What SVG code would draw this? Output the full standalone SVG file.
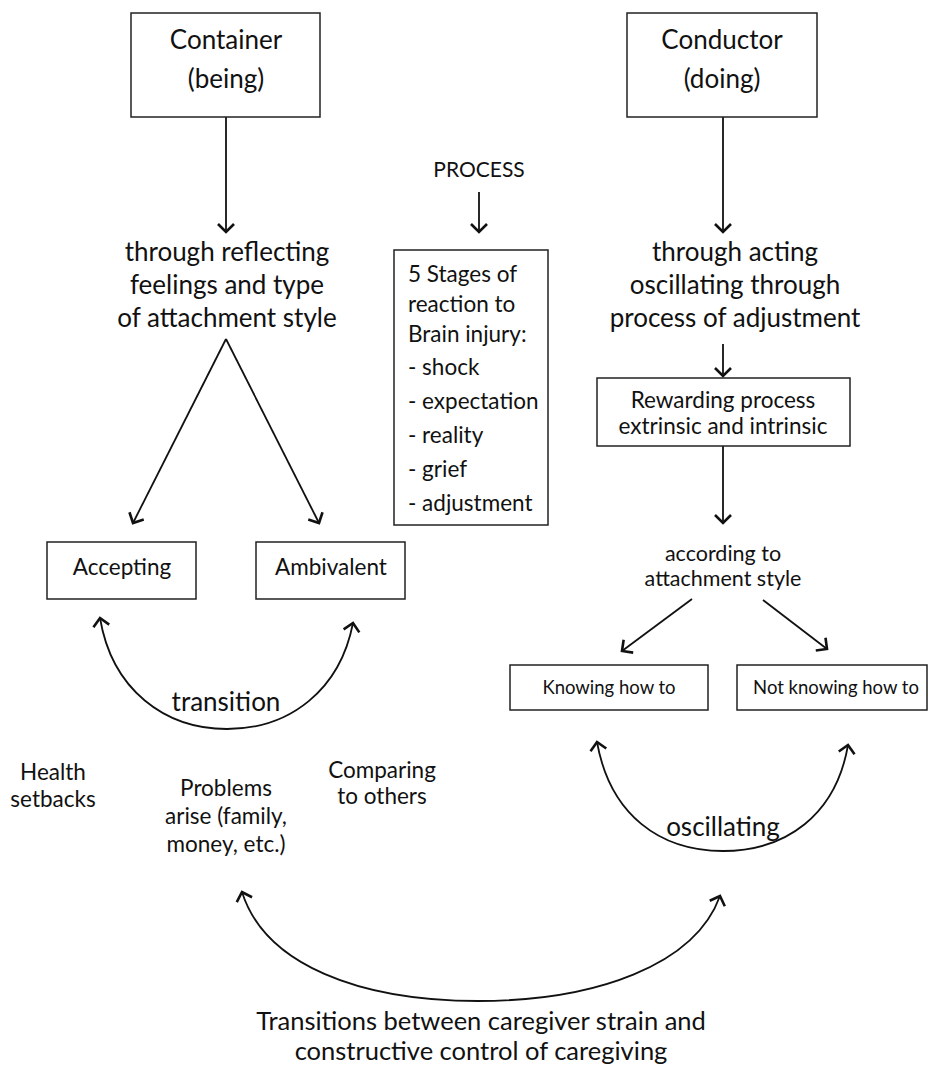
<svg xmlns="http://www.w3.org/2000/svg" width="928" height="1067" viewBox="0 0 928 1067">
<style>
text{font-family:Lato,"Liberation Sans",sans-serif;fill:#111;}
.box{fill:#fff;stroke:#222;stroke-width:1.5;}
.c{text-anchor:middle;}
.t26{font-size:26px;}
.t22{font-size:22.5px;}
.t21{font-size:21.5px;}
.t18{font-size:18.5px;}
.ln{fill:none;stroke:#111;stroke-width:1.8;}
.arr{marker-end:url(#ah);}
.dbl{marker-start:url(#ahs);marker-end:url(#ah);}
</style>
<defs>
<marker id="ah" markerUnits="userSpaceOnUse" viewBox="0 0 20 20" markerWidth="20" markerHeight="20" refX="10" refY="10" orient="auto">
<path d="M2,2 L10,10 L2,18" fill="none" stroke="#111" stroke-width="2.6"/>
</marker>
<marker id="ahs" markerUnits="userSpaceOnUse" viewBox="0 0 20 20" markerWidth="20" markerHeight="20" refX="10" refY="10" orient="auto-start-reverse">
<path d="M2,2 L10,10 L2,18" fill="none" stroke="#111" stroke-width="2.6"/>
</marker>
</defs>
<rect width="928" height="1067" fill="#fff"/>

<g id="connectors">
<line class="ln arr" x1="226" y1="117" x2="226" y2="232"/>
<line class="ln arr" x1="723" y1="117" x2="723" y2="232"/>
<line class="ln arr" x1="479" y1="192" x2="479" y2="232"/>
<line class="ln arr" x1="723" y1="344" x2="723" y2="376"/>
<line class="ln arr" x1="723" y1="446" x2="723" y2="523"/>
<line class="ln arr" x1="226" y1="339" x2="133" y2="523"/>
<line class="ln arr" x1="226" y1="339" x2="319" y2="523"/>
<line class="ln arr" x1="692" y1="599" x2="622" y2="651"/>
<line class="ln arr" x1="763" y1="600" x2="827" y2="649"/>
<path class="ln dbl" d="M100,618 C112,690 165,729 227,729 C290,729 340,690 353,623"/>
<path class="ln dbl" d="M597,742 C610,815 660,851 723,851 C786,851 836,815 848,745"/>
<path class="ln dbl" d="M242,892 C265,965 360,1001 478,1001 C596,1001 695,965 720,896"/>
</g>

<g id="container">
<rect class="box" x="131" y="13" width="189" height="104"/>
<text class="c t26" x="226" y="49">Container</text>
<text class="c t26" x="226" y="88">(being)</text>
</g>

<g id="conductor">
<rect class="box" x="627" y="13" width="190" height="104"/>
<text class="c t26" x="722" y="49">Conductor</text>
<text class="c t26" x="722" y="88">(doing)</text>
</g>

<g id="reflecting">
<text class="c t26" x="227" y="261">through reflecting</text>
<text class="c t26" x="227" y="294">feelings and type</text>
<text class="c t26" x="227" y="327">of attachment style</text>
</g>

<g id="acting">
<text class="c t26" x="735" y="261">through acting</text>
<text class="c t26" x="735" y="294">oscillating through</text>
<text class="c t26" x="735" y="327">process of adjustment</text>
</g>

<g id="process">
<text class="c" x="479" y="177" style="font-size:21px">PROCESS</text>
</g>

<g id="stages">
<rect class="box" x="394" y="250" width="154" height="275"/>
<text class="t22" x="408" y="282">5 Stages of</text>
<text class="t22" x="408" y="312">reaction to</text>
<text class="t22" x="408" y="342">Brain injury:</text>
<text class="t22" x="408" y="375">- shock</text>
<text class="t22" x="408" y="409">- expectation</text>
<text class="t22" x="408" y="443">- reality</text>
<text class="t22" x="408" y="477">- grief</text>
<text class="t22" x="408" y="511">- adjustment</text>
</g>

<g id="rewarding">
<rect class="box" x="597" y="378" width="253" height="68"/>
<text class="c t22" x="723" y="408">Rewarding process</text>
<text class="c t22" x="723" y="434">extrinsic and intrinsic</text>
</g>

<g id="according">
<text class="c t21" x="723" y="561">according to</text>
<text class="c t21" x="723" y="586">attachment style</text>
</g>

<g id="accepting">
<rect class="box" x="47" y="542" width="149" height="57"/>
<text class="c t22" x="122" y="575">Accepting</text>
</g>

<g id="ambivalent">
<rect class="box" x="256" y="542" width="149" height="57"/>
<text class="c t22" x="331" y="575">Ambivalent</text>
</g>

<g id="knowing">
<rect class="box" x="510" y="665" width="198" height="45"/>
<text class="c t18" x="609" y="694">Knowing how to</text>
</g>

<g id="notknowing">
<rect class="box" x="737" y="665" width="190" height="45"/>
<text class="c t18" x="836" y="694">Not knowing how to</text>
</g>

<g id="labels">
<text class="c t26" x="226" y="711">transition</text>
<text class="c t26" x="723" y="836">oscillating</text>
<text class="c t22" x="53" y="780">Health</text>
<text class="c t22" x="53" y="807">setbacks</text>
<text class="c t22" x="226" y="796">Problems</text>
<text class="c t22" x="226" y="824">arise (family,</text>
<text class="c t22" x="226" y="852">money, etc.)</text>
<text class="c t22" x="382" y="778">Comparing</text>
<text class="c t22" x="382" y="804">to others</text>
<text class="c" x="481" y="1030" style="font-size:25.5px">Transitions between caregiver strain and</text>
<text class="c" x="481" y="1060" style="font-size:25.5px">constructive control of caregiving</text>
</g>
</svg>
